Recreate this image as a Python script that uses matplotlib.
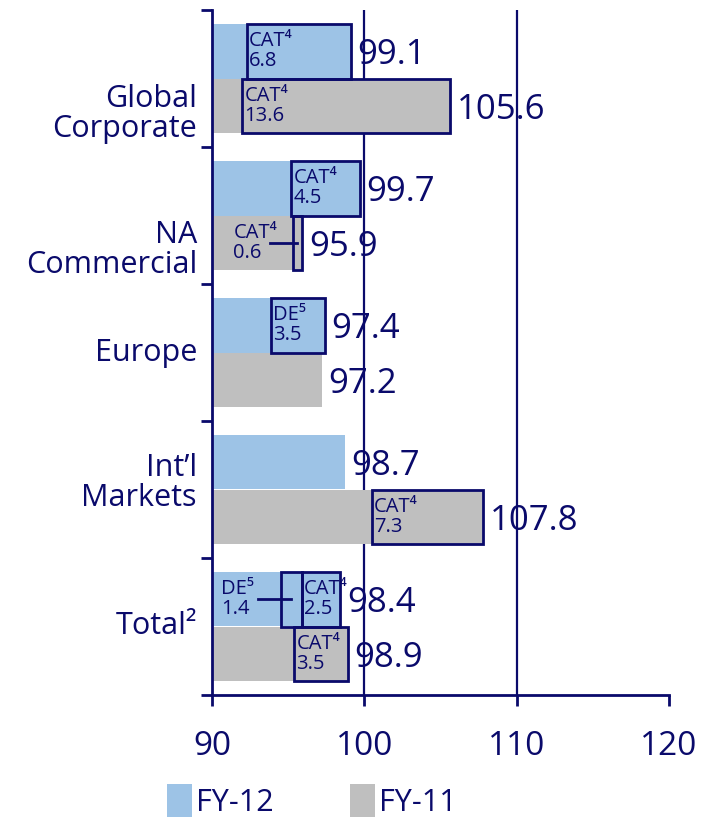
import numpy as np
import matplotlib
matplotlib.use("Agg")
import matplotlib.pyplot as plt
from matplotlib.patches import Patch


# ---------------------------
# Data
# ---------------------------
categories = ["Global\nCorporate", "NA\nCommercial", "Europe", "Int\u2019l\nMarkets", "Total\u00b2"]
fy12 = [99.1, 99.7, 97.4, 98.7, 98.4]
fy11 = [105.6, 95.9, 97.2, 107.8, 98.9]

# notes stacked leftwards from the end of each bar: (category index, name, value)
fy12_notes = [(0, "CAT", 6.8), (1, "CAT", 4.5), (2, "DE", 3.5), (4, "CAT", 2.5), (4, "DE", 1.4)]
fy11_notes = [(0, "CAT", 13.6), (1, "CAT", 0.6), (3, "CAT", 7.3), (4, "CAT", 3.5)]
footnotes = {"CAT": "\u2074", "DE": "\u2075"}

xticks = [90, 100, 110, 120]
series_names = ["FY-12", "FY-11"]

# ---------------------------
# Style
# ---------------------------
NAVY = "#0a0a6b"
BLUE = "#9dc3e6"
GREY = "#bfbfbf"
SANS = ["Open Sans", "DejaVu Sans"]
plt.rcParams["font.family"] = SANS

# vertical nudge of each category label (in group units)
label_shift = [0.26, 0.25, 0.0, -0.05, 0.0]

fig = plt.figure(figsize=(7.13, 8.25), dpi=100)
ax = fig.add_axes([212 / 713, 1 - 695 / 825, 457 / 713, 685 / 825])

y = np.arange(len(categories))
bar_h = 0.4
offsets = [-0.2, 0.2]

for vals, off, col in [(fy12, offsets[0], BLUE), (fy11, offsets[1], GREY)]:
    ax.barh(y + off, vals, height=bar_h, color=col, zorder=2)
    for yi, v in zip(y, vals):
        ax.annotate(f"{v}", (v, yi + off), xytext=(5, 0), textcoords="offset points",
                    ha="left", va="center_baseline", fontsize=25, color=NAVY, zorder=5)


def draw_notes(notes, vals, off):
    ends = list(vals)
    for ci, name, val in notes:
        yb = y[ci] + off
        left = ends[ci] - val
        ends[ci] = left
        ax.barh(yb, val, left=left, height=bar_h, fill=False, edgecolor=NAVY,
                linewidth=2, zorder=3)
        label = f"{name}{footnotes[name]}\n{val}"
        if val >= 2:
            ax.annotate(label, (left, yb), xytext=(1.5, 0), textcoords="offset points",
                        ha="left", va="center", fontsize=14.5, color=NAVY, zorder=4,
                        family=SANS, linespacing=1.0)
        else:
            ax.text(left - 3.9, yb, label, ha="left", va="center", fontsize=14.5,
                    color=NAVY, zorder=4, family=SANS, linespacing=1.0)
            ax.plot([left - 1.5, left + val / 2], [yb, yb], color=NAVY, lw=2, zorder=4)


draw_notes(fy12_notes, fy12, offsets[0])
draw_notes(fy11_notes, fy11, offsets[1])

# gridlines only at inner ticks
ax.vlines(xticks[1:-1], -0.5, len(categories) - 0.5, color=NAVY, lw=1.6, zorder=1)

ax.set_xlim(xticks[0], xticks[-1])
ax.set_ylim(len(categories) - 0.5, -0.5)

for s in ["top", "right"]:
    ax.spines[s].set_visible(False)
for s in ["left", "bottom"]:
    ax.spines[s].set_color(NAVY)
    ax.spines[s].set_linewidth(2)

ax.set_xticks(xticks)
ax.set_xticklabels([str(t) for t in xticks], fontsize=24, color=NAVY)
ax.tick_params(axis="x", direction="out", length=8, width=2, color=NAVY, pad=17)
ax.set_yticks(np.arange(len(categories) + 1) - 0.5)
ax.set_yticklabels([])
ax.tick_params(axis="y", direction="out", length=8, width=2, color=NAVY)

for yi, cat, sh in zip(y, categories, label_shift):
    ax.text(-0.033, yi + sh, cat, transform=ax.get_yaxis_transform(), ha="right",
            va="center", fontsize=22, color=NAVY, linespacing=1.0)

handles = [Patch(facecolor=BLUE), Patch(facecolor=GREY)]
fig.legend(handles, series_names, loc="upper left", bbox_to_anchor=(167 / 713, 1 - 784 / 825),
           ncol=2, frameon=False, handlelength=0.82, handleheight=1.3, handletextpad=0.13,
           columnspacing=2.5, borderpad=0, borderaxespad=0, labelcolor=NAVY,
           prop={"size": 22})

fig.savefig("out.png", dpi=100)
